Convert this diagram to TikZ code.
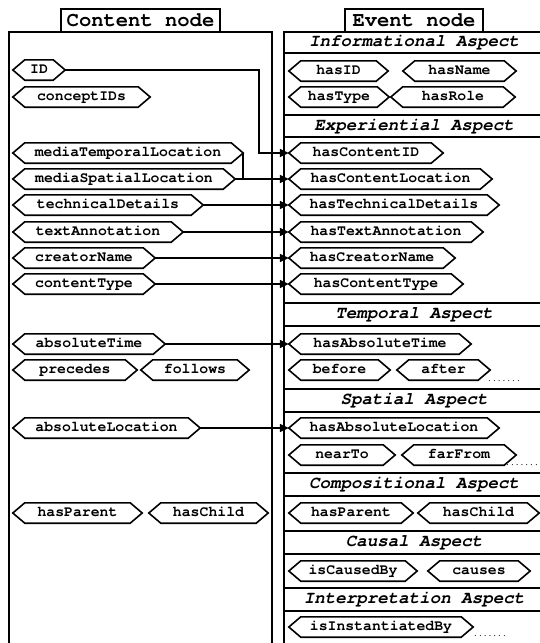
\documentclass[tikz,border=0pt]{standalone}
\usepackage{fontspec}
\newfontfamily\cur{texgyrecursor}[Extension=.otf,UprightFont=*-regular,BoldFont=*-bold,ItalicFont=*-italic,BoldItalicFont=*-bolditalic]
\usetikzlibrary{arrows.meta}
\newcommand\hx[5]{%
  \node[hexa, minimum width={(#3-#2)*1pt}] (#1) at ({(#2+#3)/2},#4) {#5};
  \draw[hexline] (#1.west) -- ([xshift=12pt]#1.north west) -- ([xshift=-12pt]#1.north east)
    -- (#1.east) -- ([xshift=-12pt]#1.south east) -- ([xshift=12pt]#1.south west) -- cycle;}
\begin{document}
\begin{tikzpicture}[x=1pt,y=-1pt,
  hexa/.style={shape=rectangle, minimum height=20pt, inner sep=0pt,
    text height=8.5pt, text depth=2.5pt,
    font=\cur\bfseries\fontsize{14.8}{14.8}\selectfont},
  hexline/.style={draw, line width=1.6pt, line join=miter},
  frame/.style={draw, line width=1.9pt},
  titlebox/.style={draw, fill=white, line width=1.9pt, minimum height=23pt, inner sep=0pt,
    font=\cur\bfseries\fontsize{20.5}{20.5}\selectfont},
  head/.style={inner sep=0pt, text height=11pt, text depth=3pt,
    font=\cur\bfseries\itshape\fontsize{17.5}{17.5}\selectfont},
  conn/.style={line width=1.6pt},
  arr/.style={conn, -{Triangle[length=9pt,width=8pt]}},
  dotsty/.style={inner sep=0pt, anchor=base west, font=\cur\fontsize{8}{8}\selectfont}]
\useasboundingbox (0,0) rectangle (540,643);
% frames
\draw[frame] (9,32) rectangle (272,660);
\draw[frame] (284,32) rectangle (548,660);
\node[titlebox, minimum width=159pt] (ctitle) at (140.5,20.5) {Content node};
\node[titlebox, minimum width=138pt] (etitle) at (414,20.5) {Event node};
% aspect bands
\foreach \a/\b in {32/53,115/137,303/326,389/412,473/496,531/554,588/611}{
  \draw[frame] (284,\a) -- (548,\a);
  \draw[frame] (284,\b) -- (548,\b);
}
\node[head] (h1) at (414,42.5) {Informational Aspect};
\node[head] (h2) at (414,126) {Experiential Aspect};
\node[head] (h3) at (414,314.5) {Temporal Aspect};
\node[head] (h4) at (414,400.5) {Spatial Aspect};
\node[head] (h5) at (414,484.5) {Compositional Aspect};
\node[head] (h6) at (414,542.5) {Causal Aspect};
\node[head] (h7) at (414,599.5) {Interpretation Aspect};
% content node properties
\hx{ID}{13}{65}{70}{ID}
\hx{conceptIDs}{13}{150}{97}{conceptIDs}
\hx{mTL}{13}{243}{153}{mediaTemporalLocation}
\hx{mSL}{13}{235}{179}{mediaSpatialLocation}
\hx{tD}{13}{203}{205}{technicalDetails}
\hx{tA}{13}{183}{232}{textAnnotation}
\hx{cN}{13}{155}{258}{creatorName}
\hx{cT}{13}{155}{284}{contentType}
\hx{aT}{13}{165}{344}{absoluteTime}
\hx{prec}{13}{137}{370}{precedes}
\hx{foll}{141}{249}{370}{follows}
\hx{aL}{13}{200}{428}{absoluteLocation}
\hx{cPar}{13}{142}{513}{hasParent}
\hx{cChi}{149}{268}{513}{hasChild}
% event node properties
\hx{hasID}{289}{388}{71}{hasID}
\hx{hasName}{403}{516}{71}{hasName}
\hx{hasType}{289}{389}{97}{hasType}
\hx{hasRole}{391}{515}{97}{hasRole}
\hx{hCID}{289}{443}{153}{hasContentID}
\hx{hCL}{289}{492}{179}{hasContentLocation}
\hx{hTD}{289}{499}{205}{hasTechnicalDetails}
\hx{hTA}{289}{483}{232}{hasTextAnnotation}
\hx{hCN}{289}{455}{258}{hasCreatorName}
\hx{hCT}{289}{463}{284}{hasContentType}
\hx{hAT}{289}{471}{344}{hasAbsoluteTime}
\hx{before}{289}{390}{370}{before}
\hx{after}{397}{490}{370}{after}
\hx{hAL}{289}{499}{428}{hasAbsoluteLocation}
\hx{nearTo}{289}{395}{455}{nearTo}
\hx{farFrom}{402}{516}{455}{farFrom}
\hx{ePar}{289}{413}{513}{hasParent}
\hx{eChi}{418}{539}{513}{hasChild}
\hx{isCB}{289}{417}{571}{isCausedBy}
\hx{causes}{428}{530}{571}{causes}
\hx{isIB}{289}{473}{627}{isInstantiatedBy}
% dots
\node[dotsty] (d1) at (487,381) {.......};
\node[dotsty] (d2) at (505,465) {.......};
\node[dotsty] (d3) at (473,636) {.......};
% connectors
\draw[arr] (ID.east) -| ([xshift=-30pt]hCID.west) -- (hCID.west);
\draw[conn] (mTL.east) -- (mTL.east |- mSL.east);
\draw[arr] (mSL.east) -- (hCL.west);
\draw[arr] (tD.east) -- (hTD.west);
\draw[arr] (tA.east) -- (hTA.west);
\draw[arr] (cN.east) -- (hCN.west);
\draw[arr] (cT.east) -- (hCT.west);
\draw[arr] (aT.east) -- (hAT.west);
\draw[arr] (aL.east) -- (hAL.west);
\end{tikzpicture}
\end{document}
